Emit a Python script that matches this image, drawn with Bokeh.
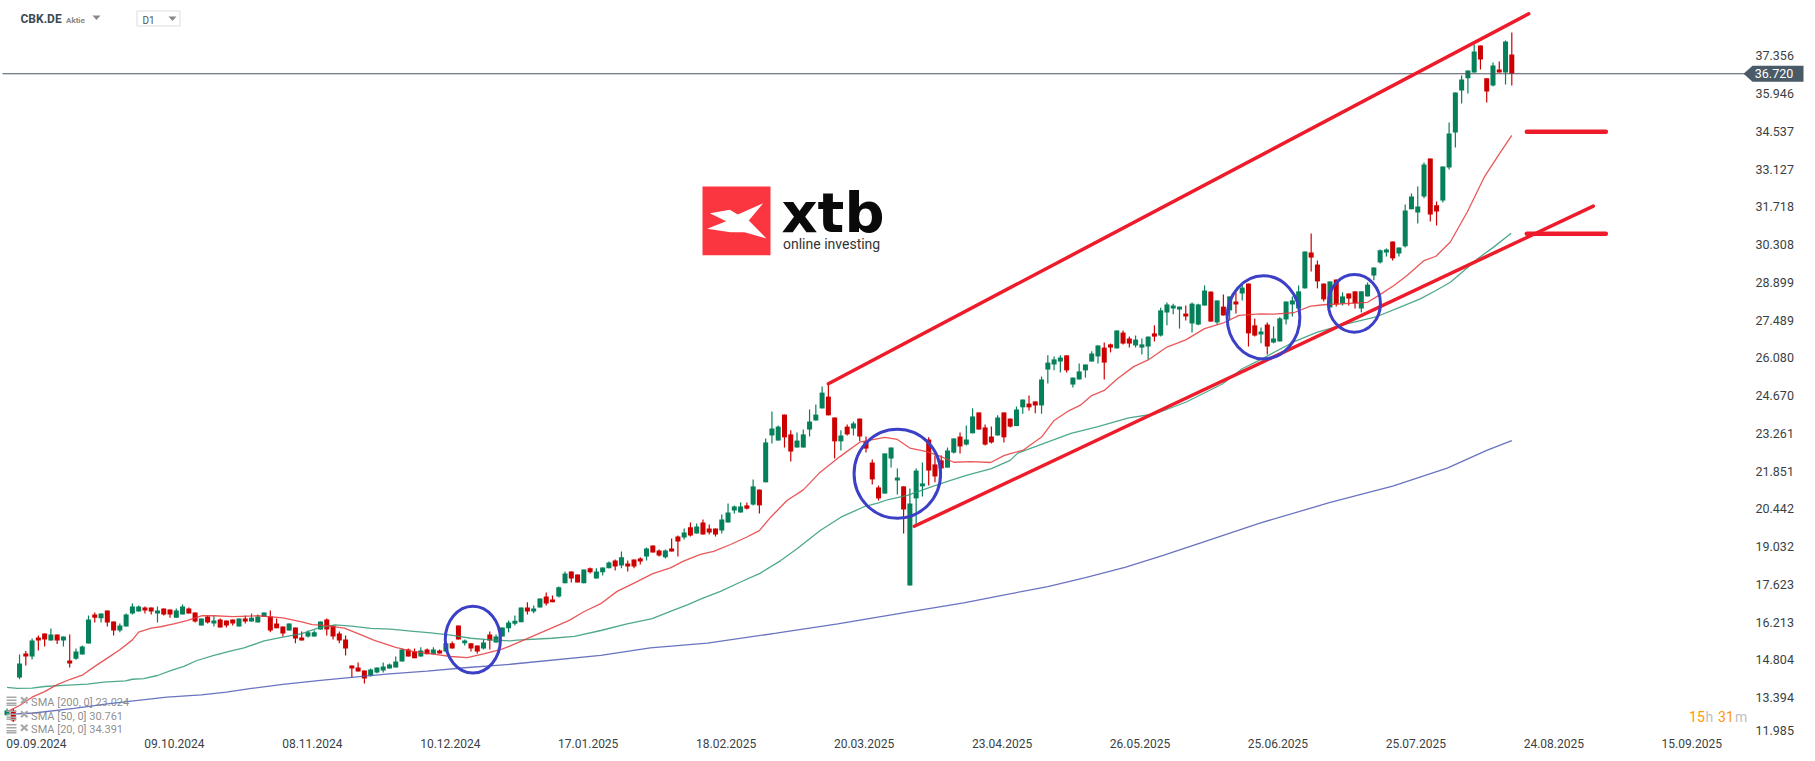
from bokeh.plotting import figure
from bokeh.models import FixedTicker, Range1d
from bokeh.core.properties import value
from bokeh.embed import file_html
from bokeh.resources import INLINE

opens = [
12.78,12.95,14.19,15.08,14.97,15.68,15.83,15.57,15.79,15.57,
14.82,14.89,15.04,15.45,16.54,16.40,16.69,16.28,15.94,16.09,
16.57,16.65,16.80,16.80,16.57,16.76,16.72,16.42,16.54,16.76,
16.61,16.13,16.46,16.20,16.35,16.31,16.35,16.09,16.39,16.28,
16.24,16.44,16.46,16.20,16.09,15.94,16.05,15.68,15.72,15.72,
15.98,16.35,16.13,15.83,15.60,14.63,14.56,14.45,14.26,14.37,
14.45,14.52,14.56,14.78,15.23,15.16,14.97,15.23,15.05,15.19,
15.16,15.46,16.13,15.46,15.46,15.38,15.27,15.79,15.49,15.72,
16.02,16.19,16.25,16.80,16.65,16.80,17.21,17.10,17.21,17.70,
18.14,18.03,17.70,18.26,17.88,18.11,18.26,18.55,18.37,18.44,
18.59,18.63,18.70,19.11,18.93,18.67,19.00,19.45,19.41,19.79,
19.56,19.97,19.75,19.75,19.67,19.97,20.42,20.34,20.61,20.64,
21.20,21.47,23.22,23.03,24.00,23.26,22.77,22.77,23.44,23.78,
24.23,24.67,23.89,23.00,23.55,23.48,23.85,23.00,22.21,21.28,
21.05,22.36,21.54,21.32,17.62,20.87,21.32,23.07,22.14,22.29,
22.02,22.58,23.18,22.88,23.30,24.08,23.52,23.18,23.22,24.08,
23.85,23.57,24.27,24.41,24.49,24.34,25.68,25.87,25.98,26.21,
25.12,25.31,25.65,25.98,26.17,26.50,26.62,26.47,27.06,26.84,
26.58,26.50,26.54,27.03,26.95,27.81,27.96,27.92,27.77,27.40,
27.36,28.07,28.59,27.44,28.03,27.89,28.22,28.52,28.89,27.33,
26.99,27.36,26.69,26.73,27.55,28.11,27.96,28.71,30.05,29.60,
28.89,28.00,29.04,28.15,28.52,28.60,27.96,28.41,29.19,29.68,
30.05,30.46,30.01,30.28,31.66,31.54,32.14,33.56,31.81,31.99,
33.22,34.53,36.10,36.55,36.77,37.78,36.55,36.28,36.88,36.77,37.44]

highs = [
13.03,13.03,15.04,15.17,15.64,15.75,15.83,16.01,15.79,15.72,
15.79,15.27,15.38,16.50,16.61,16.57,16.69,16.28,16.20,16.57,
16.95,16.87,16.84,16.80,16.84,16.76,16.72,16.76,16.91,16.80,
16.61,16.39,16.50,16.50,16.39,16.31,16.35,16.39,16.50,16.57,
16.54,16.61,16.69,16.39,16.09,16.20,16.05,15.90,15.94,15.94,
16.28,16.39,16.13,15.90,15.75,14.63,14.75,14.45,14.52,14.56,
14.75,14.71,14.97,15.27,15.27,15.27,15.31,15.27,15.31,15.23,
15.46,15.53,16.13,15.60,15.46,15.38,15.60,15.90,15.79,16.05,
16.31,16.50,16.80,16.99,16.87,17.13,17.36,17.25,17.58,18.14,
18.14,18.03,18.22,18.29,18.26,18.29,18.52,18.59,18.89,18.55,
18.59,18.67,19.04,19.11,18.96,18.96,19.37,19.49,19.75,19.97,
19.93,20.08,19.90,19.75,20.27,20.68,20.61,20.72,20.72,21.58,
21.20,23.11,24.11,23.59,24.00,23.41,23.33,23.44,24.19,24.38,
25.05,25.16,23.89,23.41,23.63,23.74,23.85,23.18,22.32,21.35,
22.55,22.77,21.99,21.32,21.24,21.99,22.21,23.15,22.47,22.47,
22.77,23.11,23.33,23.59,24.23,24.08,23.63,23.55,23.97,24.08,
23.85,24.30,24.56,24.71,24.49,25.42,26.21,26.17,26.21,26.21,
25.38,25.91,25.87,26.36,26.58,26.69,26.65,27.14,27.14,26.91,
26.95,26.84,26.91,27.33,27.99,28.18,28.14,28.03,28.07,28.18,
28.14,28.82,28.59,28.26,28.48,28.41,28.56,28.89,28.89,27.59,
27.25,27.44,27.29,27.63,28.22,28.41,28.82,30.09,30.76,29.75,
28.89,28.97,29.04,28.56,28.52,28.60,28.60,28.93,29.49,30.16,
30.20,30.46,30.24,31.84,32.25,32.51,33.41,33.56,31.95,33.26,
34.90,36.02,36.66,36.84,37.81,37.78,36.55,37.14,37.18,37.96,38.26]

lows = [
12.78,12.52,14.12,14.63,14.86,15.19,15.34,15.57,15.44,15.34,
14.56,14.85,15.04,15.45,16.24,16.24,16.09,15.75,15.87,16.09,
16.54,16.65,16.57,16.54,16.24,16.50,16.42,16.42,16.54,16.57,
16.24,16.13,16.20,16.09,16.05,16.05,16.13,16.09,16.20,16.28,
16.24,16.44,15.87,16.02,15.72,15.94,15.46,15.57,15.68,15.72,
15.98,15.75,15.60,15.46,15.01,14.19,14.41,13.96,14.22,14.34,
14.37,14.52,14.56,14.78,14.97,14.90,14.97,15.05,15.05,15.08,
15.16,15.27,15.60,15.38,15.16,15.08,15.23,15.23,15.49,15.72,
15.87,16.13,16.25,16.54,16.58,16.80,16.87,16.99,17.17,17.70,
17.73,17.73,17.70,18.07,17.88,17.99,18.26,18.18,18.26,18.14,
18.26,18.40,18.55,18.85,18.70,18.63,18.89,18.70,19.34,19.45,
19.56,19.52,19.52,19.45,19.56,19.97,20.31,20.34,20.46,20.61,
20.31,21.47,22.92,23.03,22.77,22.25,22.77,22.77,23.18,23.78,
24.23,23.97,22.36,22.66,23.22,23.22,23.00,22.58,21.39,20.79,
21.05,22.02,21.02,19.56,17.62,19.86,20.94,21.35,21.47,21.99,
22.02,22.55,22.55,22.85,23.30,23.44,22.85,22.92,23.22,22.96,
23.52,23.57,24.03,24.15,24.05,24.03,25.16,25.65,25.57,25.57,
25.01,25.31,25.38,25.98,25.91,25.31,26.32,26.47,26.62,26.50,
26.50,26.24,26.06,26.73,26.91,27.33,27.74,27.21,27.51,27.06,
27.33,28.07,27.47,27.36,27.70,27.51,27.77,28.26,26.54,26.91,
26.66,26.24,26.66,26.73,27.36,27.66,27.89,28.71,29.34,28.71,
28.22,28.00,28.03,28.07,28.07,27.96,27.81,28.41,29.01,29.64,
29.90,29.75,29.90,30.24,31.66,31.13,32.07,31.21,31.06,31.92,
33.15,33.97,35.61,35.98,36.77,36.88,35.65,36.25,36.77,36.32,36.28]

closes = [
12.95,12.58,14.71,14.97,15.57,15.57,15.60,15.79,15.57,15.72,
14.71,15.16,15.34,16.35,16.42,16.57,16.24,15.94,16.13,16.54,
16.84,16.84,16.69,16.65,16.69,16.54,16.54,16.69,16.84,16.57,
16.28,16.39,16.24,16.31,16.05,16.13,16.20,16.39,16.28,16.42,
16.46,16.61,15.94,16.02,15.83,16.20,15.64,15.57,15.87,15.87,
16.28,15.98,15.72,15.57,15.27,14.52,14.41,14.15,14.48,14.56,
14.60,14.67,14.78,15.23,14.97,14.90,15.19,15.05,15.23,15.08,
15.46,15.27,15.60,15.57,15.27,15.16,15.49,15.57,15.72,16.05,
16.24,16.30,16.80,16.65,16.76,17.13,16.95,16.99,17.55,18.07,
17.88,17.73,18.22,18.11,18.14,18.29,18.48,18.33,18.67,18.33,
18.33,18.52,19.00,18.85,18.74,18.93,18.89,19.26,19.60,19.49,
19.82,19.52,19.60,19.52,20.08,20.34,20.57,20.57,20.49,21.32,
20.61,22.96,23.48,23.55,23.15,22.62,23.03,23.26,23.74,24.00,
24.82,23.97,23.00,23.22,23.26,23.67,23.18,22.73,21.58,20.87,
22.55,22.77,21.65,20.46,20.68,21.91,21.43,21.91,21.69,21.99,
22.66,23.11,22.81,23.07,23.93,23.44,22.88,22.96,23.89,23.15,
23.55,24.19,24.56,24.27,24.34,25.31,25.94,26.06,26.13,25.65,
25.38,25.61,25.87,26.28,26.58,25.94,26.50,27.14,26.65,26.65,
26.80,26.62,26.91,26.91,27.89,28.11,28.07,28.03,27.66,28.14,
28.11,28.63,27.47,28.26,27.70,28.41,28.11,28.74,27.03,26.95,
27.10,26.54,26.84,27.59,28.22,28.26,28.60,30.09,29.86,28.97,
28.30,28.97,28.11,28.41,28.33,28.15,28.60,28.85,29.49,30.13,
30.16,29.83,30.24,31.62,32.14,31.77,33.33,31.47,31.58,33.26,
34.49,36.02,36.51,36.84,37.55,37.25,36.06,37.03,36.77,37.93,36.72]

sma20_x = [0,2,4,6,8,10,12,14,16,18,20,21,23,24.5,26.6,28.7,31,33,36,40,44,47,48.7,50.6,53.8,56,58.6,62,64.5,67.7,70.8,73.4,76,78.7,80,
           89.6,92,94.7,97.3,100,103,105.8,107.9,110.6,112.7,115.4,118,120,121.8,124.4,127,129.7,132.9,136,138.3,140,142,144,146.7,148.9,151,153.7,156.9,159,160,
           162,165,167,169.4,171.2,173,175,177.1,179.7,182,185,188,191,193.9,196.5,199.9,202,205.2,207.9,210,217,218.8,221.2,223.3,226,227.9,230.2,232.9,235.6,238.2,240]
sma20_y = [12.90,13.14,13.45,13.66,13.92,14.11,14.27,14.60,14.91,15.22,15.59,15.88,16.03,16.08,16.19,16.31,16.49,16.49,16.46,16.49,16.41,16.26,16.16,16.13,16.03,15.82,15.57,15.31,15.17,15.07,14.97,14.93,15.07,15.23,15.34,
           16.31,16.64,16.94,17.40,17.71,18.06,18.28,18.53,18.78,18.89,19.15,19.43,19.67,20.17,20.79,21.19,21.85,22.44,22.97,23.07,23.15,23.07,22.75,22.62,22.44,22.22,22.24,22.21,22.47,22.54,
           22.66,23.16,23.78,24.15,24.35,24.71,24.90,25.34,25.79,26.04,26.52,26.79,27.21,27.41,27.70,27.76,27.75,27.80,28.05,28.10,28.19,28.45,28.82,29.19,29.75,29.91,30.44,31.56,32.86,33.80,34.42]

sma50_x = [0,1.6,4,6,9,12.8,15.4,18.9,20,21.8,24,26,28.2,30.3,33,35.6,37.8,41,44,47,49.6,52.3,55,58,61.2,64.4,67.6,70.8,74,77.1,80.3,81.3,86.9,90.5,94.7,98.9,102.9,105.8,108.5,111,113.8,117,120,123.4,126,129.7,133,136.6,139,140.4,143.6,147.3,150.5,153,157,160,
           161.2,169.7,174,178.9,183.2,188,193.9,197,200,205.2,209,213.2,218.5,222.2,225.4,227.9,230.2,232.4,234.5,237.1,239.9]
sma50_y = [13.82,13.78,13.79,13.85,13.89,13.94,14.01,14.06,14.12,14.14,14.26,14.43,14.60,14.82,15.01,15.17,15.29,15.55,15.69,15.82,16.03,16.15,16.10,16.02,15.99,15.92,15.85,15.77,15.65,15.59,15.55,15.58,15.65,15.72,15.94,16.19,16.38,16.65,16.90,17.15,17.40,17.75,18.06,18.55,18.99,19.67,20.17,20.55,20.70,20.82,20.98,21.29,21.54,21.73,21.98,22.29,
           22.56,23.30,23.55,23.88,24.03,24.46,25.15,25.71,26.06,26.71,27.08,27.36,27.66,28.01,28.32,28.63,28.94,29.38,29.81,30.25,30.77]

sma200_x = [0,4.3,10.7,16,20.2,25.5,31,35,39,44,49.6,55,61,67,73,80.3,94.7,102.6,111.7,122.7,132.5,143.4,152.6,158.7,166,172,178.3,184.4,190.4,199.7,210.9,221,229.7,236,240]
sma200_y = [12.81,12.86,13.03,13.20,13.31,13.45,13.54,13.64,13.78,13.93,14.07,14.19,14.32,14.42,14.55,14.68,15.01,15.29,15.47,15.84,16.19,16.62,16.97,17.25,17.58,17.91,18.30,18.74,19.21,19.94,20.71,21.33,22.00,22.66,23.03]

trend_x0 = [131.0, 144.7, 242.4, 242.4]
trend_y0 = [25.15, 19.83, 34.555, 30.75]
trend_x1 = [242.7, 253.0, 255.0, 255.0]
trend_y1 = [38.96, 31.78, 34.555, 30.75]

ring_x = [74.3, 142.0, 200.4, 214.9]
ring_y = [15.60, 21.79, 27.63, 28.15]
ring_w = [8.8, 13.8, 11.6, 8.3]
ring_h = [2.49, 3.32, 3.11, 2.15]

last_price = 36.72
price_ticks = [37.356,35.946,34.537,33.127,31.718,30.308,28.899,27.489,26.080,24.670,23.261,21.851,20.442,19.032,17.623,16.213,14.804,13.394,12.16]
price_labels = ["37.356","35.946","34.537","33.127","31.718","30.308","28.899","27.489","26.080","24.670","23.261","21.851","20.442","19.032","17.623","16.213","14.804","13.394","11.985"]
date_ticks = [4.7,26.7,48.7,70.7,92.7,114.7,136.7,158.7,180.7,202.7,224.7,246.7,268.7]
date_labels = ["09.09.2024","09.10.2024","08.11.2024","10.12.2024","17.01.2025","18.02.2025","20.03.2025","23.04.2025","26.05.2025","25.06.2025","25.07.2025","24.08.2025","15.09.2025"]
sma_names = ["SMA  [200,  0]  23.024", "SMA  [50,  0]  30.761", "SMA  [20,  0]  34.391"]

assert len(opens) == len(highs) == len(lows) == len(closes) == 241

PX_STEP = 6.27
PX_X0 = 6.5
PX_PER_UNIT = 26.79
PX_LAST = 73.3
FRAME_W = 1812
FRAME_H = 741
AXIS_PX = 1752
LABEL_NUDGE = 0.035

def X(px):
    return (px - PX_X0) / PX_STEP

def Y(py):
    return last_price - (py - PX_LAST) / PX_PER_UNIT

GREEN = "#05805a"
RED = "#cc0000"

p = figure(width=FRAME_W, height=753, output_backend="svg", toolbar_location=None,
           x_range=Range1d(X(0), X(FRAME_W)), y_range=Range1d(Y(FRAME_H), Y(0)),
           x_axis_location="below", y_axis_location="right",
           min_border_left=0, min_border_top=0, min_border_right=0, min_border_bottom=12,
           frame_width=FRAME_W, frame_height=FRAME_H)
p.outline_line_color = None
p.grid.visible = False
p.background_fill_color = "white"

nudged = [t + LABEL_NUDGE for t in price_ticks]
for ax, ticks, labels, off, size in ((p.yaxis[0], nudged, price_labels, 3, "12.5px"),
                                     (p.xaxis[0], date_ticks, date_labels, -3, "12px")):
    ax.ticker = FixedTicker(ticks=ticks)
    ax.major_label_overrides = dict(zip(ticks, labels))
    ax.axis_line_color = None
    ax.major_tick_line_color = None
    ax.minor_tick_line_color = None
    ax.major_tick_out = 0
    ax.major_tick_in = 0
    ax.minor_tick_out = 0
    ax.major_label_text_font = "Roboto"
    ax.major_label_text_font_size = size
    ax.major_label_text_color = "#3a3f44"
    ax.major_label_standoff = off
p.yaxis[0].fixed_location = X(AXIS_PX)

# candles
idx = list(range(len(opens)))
up = [c >= o for o, c in zip(opens, closes)]
colors = [GREEN if u else RED for u in up]
tops = [max(o, c) for o, c in zip(opens, closes)]
bots = [min(o, c) for o, c in zip(opens, closes)]
p.segment(idx, highs, idx, lows, line_color=colors, line_width=1.2)
p.vbar(idx, 0.8, tops, bots, fill_color=colors, line_color=colors, line_width=0)

# moving averages
p.line(sma200_x, sma200_y, line_color="#4f5ab5", line_width=1.3, line_alpha=0.85)
p.line(sma50_x, sma50_y, line_color="#2f9a78", line_width=1.3, line_alpha=0.85)
p.line(sma20_x, sma20_y, line_color="#e5393c", line_width=1.3, line_alpha=0.85)

# last price line and tag
p.segment([X(2)], [last_price], [X(1745)], [last_price], line_color="#4a5560", line_width=1.1)
p.patch([X(1743), X(1752), X(1803), X(1803), X(1752)],
        [last_price, Y(PX_LAST - 8), Y(PX_LAST - 8), Y(PX_LAST + 8), Y(PX_LAST + 8)],
        fill_color="#4a5a66", line_color=None)
p.text([X(1773.5)], [last_price], text=["36.720"], text_color="white", text_font=value("Roboto"),
       text_font_size="12.5px", text_align="center", text_baseline="middle")

# drawings
p.segment(trend_x0[:2], trend_y0[:2], trend_x1[:2], trend_y1[:2], line_color="#ee1c2a", line_width=3.5, line_cap="round")
p.segment(trend_x0[2:], trend_y0[2:], trend_x1[2:], trend_y1[2:], line_color="#ee1c2a", line_width=4.5, line_cap="round")
p.ellipse(ring_x, ring_y, width=ring_w, height=ring_h, fill_color=None, line_color="#3c40c6", line_width=3)

def put(px, py, txt, font="Roboto", size="12px", color="#333333", style="normal", align="left", base="middle", alpha=1.0):
    p.text([X(px)], [Y(py)], text=[txt], text_font=value(font), text_font_size=size, text_color=color,
           text_font_style=style, text_align=align, text_baseline=base, text_alpha=alpha)

# header
put(20, 18.5, "CBK.DE", size="12px", color="#3c4a54", style="bold")
put(65.5, 19.5, "Aktie", size="8px", color="#888888", style="bold")
p.patch([X(92), X(100), X(96)], [Y(15), Y(15), Y(19.5)], fill_color="#888888", line_color=None)
p.quad(left=[X(136.5)], right=[X(179.5)], top=[Y(10.5)], bottom=[Y(25.5)], fill_color="white", line_color="#dddddd", line_width=1)
put(142, 19.5, "D1", size="10px", color="#555555")
p.patch([X(168), X(176), X(172)], [Y(16), Y(16), Y(20.5)], fill_color="#888888", line_color=None)

# indicator legend
for name, py in zip(sma_names, (701.7, 715.7, 729.3)):
    put(30.6, py, name, size="11px", color="#7f7f7f", alpha=0.9)
    for dy in (-5, -2, 1, 3):
        p.segment([X(6)], [Y(py + dy)], [X(16)], [Y(py + dy)], line_color="#a8a8a8", line_width=1.4)
    p.segment([X(20.5), X(20.5)], [Y(py - 5), Y(py + 1)], [X(27), X(27)], [Y(py + 1), Y(py - 5)], line_color="#a8a8a8", line_width=2.2)

# countdown
put(1688.6, 716, "15", size="14px", color="#ff9800")
put(1705, 716, "h", size="14px", color="#c0c0c0")
put(1717.6, 716, "31", size="14px", color="#ff9800")
put(1734.5, 716, "m", size="14px", color="#c0c0c0")

# logo
p.quad(left=[X(702)], right=[X(770)], top=[Y(186)], bottom=[Y(254.7)], fill_color="#fb3640", line_color=None)
mark = [(88,128),(148,118),(172,132),(248,98),(205,150),(258,204),(192,185),(150,185),(80,175),(137,152)]
p.patch([X(680 + a / 3) for a, b in mark], [Y(170 + b / 3) for a, b in mark], fill_color="white", line_color=None)
put(781, 212.4, "xtb", font="DejaVu Sans", size="56px", color="#0a0a0a", style="bold")
put(782.5, 243, "online investing", size="14px", color="#333333")

open("out.html", "w").write(file_html(p, INLINE))
